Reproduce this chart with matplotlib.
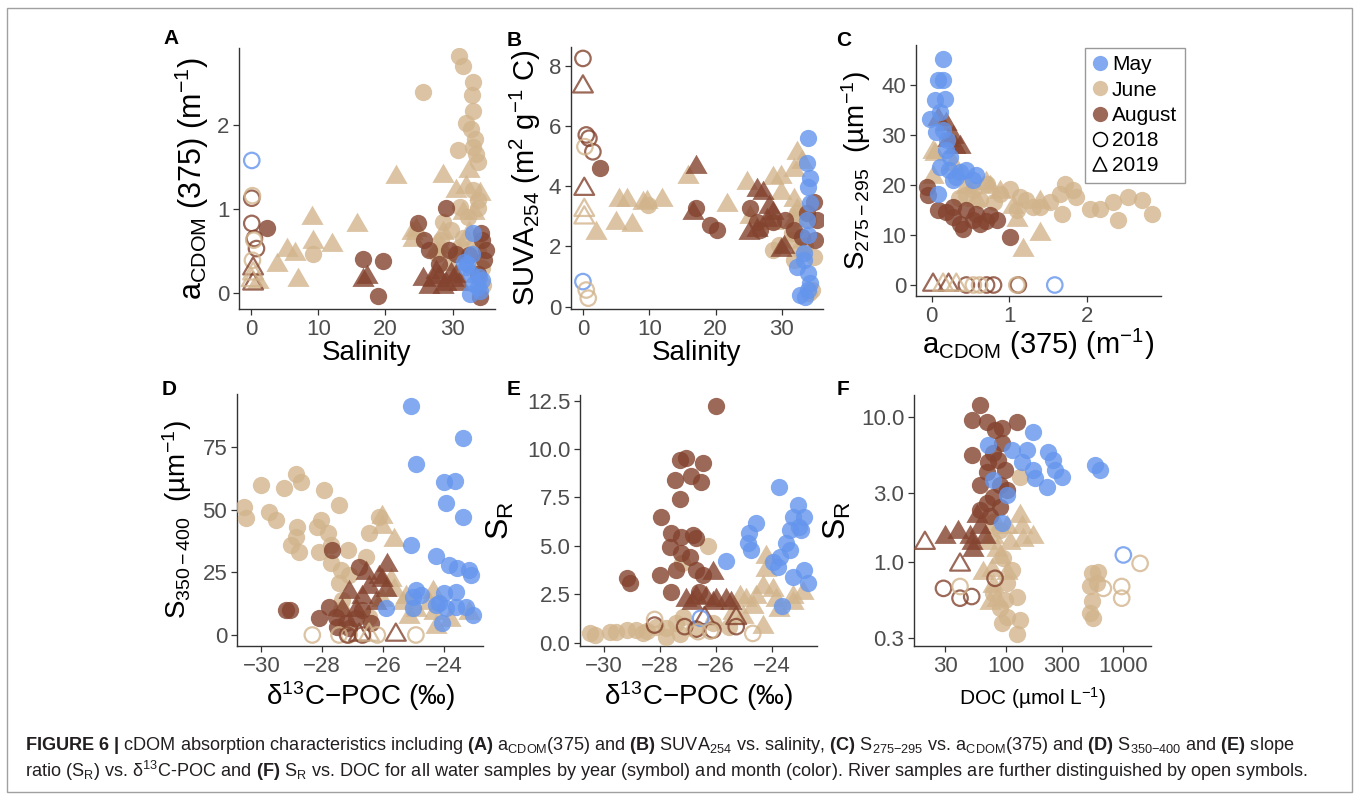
import matplotlib
matplotlib.use("Agg")
import matplotlib.pyplot as plt
from matplotlib.lines import Line2D
from matplotlib.patches import Rectangle
from matplotlib.path import Path
from matplotlib.ticker import FixedLocator, NullLocator

plt.rcParams["font.family"] = ["Liberation Sans", "DejaVu Sans"]
plt.rcParams["mathtext.fontset"] = "custom"
plt.rcParams["mathtext.rm"] = "Liberation Sans"
plt.rcParams["mathtext.it"] = "Liberation Sans:italic"
plt.rcParams["mathtext.bf"] = "Liberation Sans:bold"

MONTH_COLOR = {"May": "#6495ED", "June": "#D2B48C", "August": "#83432E"}
ALPHA = 0.8
TICK_GREY = "#4D4D4D"

# ---------- Data ----------

# A: salinity vs aCDOM(375)
A_may18_x = [32.2, 32.7, 33.2, 33.7, 32.0, 33.9, 32.9, 32.6, 34.4, 31.7, 33.0, 34.0]
A_may18_y = [0.35, 0.23, 0.11, 0.07, 0.31, 0.19, 0.47, -0.01, 0.15, 0.37, 0.71, 0.03]
A_jun18_x = [30.9, 31.6, 25.6, 33.1, 32.9, 33.1, 32.0, 32.8, 33.3, 30.8, 33.5, 33.8, 33.0, 33.0, 33.8,
             33.8, 28.6, 32.3, 31.1, 28.3, 31.6, 33.3, 27.6, 31.1, 33.8, 29.8, 9.2, 34.3, 34.5]
A_jun18_y = [2.82, 2.71, 2.39, 2.52, 2.36, 2.17, 2.03, 1.96, 1.83, 1.71, 1.66, 1.56, 1.74, 1.23, 1.11,
             1.01, 0.85, 0.91, 1.03, 0.63, 0.66, 0.59, 0.47, 0.55, 0.50, 0.75, 0.47, 0.30, 0.10]
A_jun19_x = [21.6, 28.5, 9.0, 15.7, 12.0, 9.2, 5.3, 6.5, 3.8, 7.0, 1.0, 24.1, 24.6, 28.5, 32.0, 32.4,
             30.5, 31.5, 32.5, 31.0, 27.5, 34.0, 33.2, 23.9, 28.3, 29.5]
A_jun19_y = [1.38, 1.40, 0.89, 0.81, 0.57, 0.61, 0.51, 0.47, 0.33, 0.15, 0.13, 0.63, 0.75, 0.71, 1.26, 1.46,
             1.22, 0.95, 0.71, 0.47, 0.51, 1.18, 0.95, 0.71, 0.55, 0.35]
A_aug18_x = [2.3, 16.7, 19.6, 18.9, 24.8, 25.8, 26.5, 29.0, 28.0, 29.5, 30.5, 34.0, 34.7, 34.4, 34.2, 34.9, 33.7, 32.5]
A_aug18_y = [0.77, 0.40, 0.38, -0.04, 0.83, 0.63, 0.51, 1.01, 0.35, 0.51, 0.47, -0.05, 0.39, 0.63, 0.71, 0.51, 0.23, 0.45]
A_aug19_x = [17.2, 16.7, 25.6, 27.0, 28.0, 29.0, 30.0, 26.5, 28.5, 29.8, 31.0, 27.5, 30.5]
A_aug19_y = [0.19, 0.15, 0.17, 0.15, 0.19, 0.11, 0.15, 0.07, 0.07, 0.23, 0.11, 0.25, 0.20]
# river samples (open symbols)
A_riv_x = [0.1, 0.1, 0.1, 0.5, 0.8, 0.2, 0.4, 0.2, 0.3, 0.3, 0.3, 0.1]
A_riv_y = [1.58, 1.13, 0.83, 0.65, 0.53, 1.16, 0.63, 0.39, 0.29, 0.11, 0.23, 0.15]
A_riv_month = ["May", "August", "August", "August", "August", "June", "June", "June",
               "August", "August", "June", "June"]
A_riv_year = [2018, 2018, 2018, 2018, 2018, 2018, 2018, 2018, 2019, 2019, 2019, 2019]

# B: salinity vs SUVA254
B_may18_x = [34.0, 33.8, 34.3, 34.0, 34.3, 34.0, 33.3, 32.3, 33.3, 34.0, 34.3, 32.8, 34.0, 33.5, 33.8]
B_may18_y = [5.59, 4.76, 4.26, 3.98, 3.43, 2.38, 1.77, 1.33, 1.55, 1.11, 0.77, 0.39, 0.55, 0.33, 2.88]
B_jun18_x = [9.8, 28.6, 29.6, 31.5, 32.8, 34.0, 34.8, 34.5, 34.1, 32.3, 31.5, 31.8, 33.5]
B_jun18_y = [3.37, 1.88, 2.05, 2.21, 1.88, 2.88, 1.66, 0.55, 0.44, 3.10, 2.43, 1.55, 2.00]
B_jun19_x = [5.0, 6.6, 5.5, 7.4, 9.1, 9.6, 11.9, 2.0, 15.9, 21.7, 24.7, 28.7, 29.8, 31.8, 32.3, 25.2,
             29.8, 31.8, 32.3, 28.7, 31.8, 33.0]
B_jun19_y = [2.77, 3.54, 3.54, 2.71, 3.43, 3.48, 3.54, 2.43, 4.31, 3.37, 4.09, 4.26, 4.31, 4.54, 5.09, 2.99,
             3.76, 3.54, 3.21, 2.77, 2.88, 4.80]
B_aug18_x = [2.5, 17.1, 19.2, 20.2, 25.2, 26.2, 26.7, 28.7, 30.5, 31.8, 34.8, 35.3, 35.0, 33.8, 33.0]
B_aug18_y = [4.59, 3.26, 2.71, 2.54, 3.26, 2.82, 2.54, 2.82, 2.88, 2.54, 3.48, 2.88, 2.21, 3.10, 2.30]
B_aug19_x = [17.1, 26.2, 27.2, 27.7, 26.2, 28.7, 29.8, 30.3, 25.1, 16.6, 28.0]
B_aug19_y = [4.65, 3.87, 3.76, 2.88, 2.54, 3.10, 1.88, 1.99, 2.43, 3.10, 3.30]
B_riv_x = [0.0, 0.0, 0.5, 0.9, 1.5, 0.3, 0.5, 0.8, 0.0, 0.2, 0.2, 0.2]
B_riv_y = [0.83, 8.24, 5.70, 5.59, 5.14, 5.31, 0.55, 0.28, 7.30, 3.90, 3.20, 2.95]
B_riv_month = A_riv_month
B_riv_year = A_riv_year

# C: aCDOM(375) vs S275-295
C_may18_x = [0.15, 0.09, 0.15, 0.04, 0.17, -0.02, 0.11, 0.06, 0.15, 0.19, 0.24, 0.11, 0.22, 0.37, 0.45,
             0.32, 0.58, 0.54, 0.28, 0.09, 0.20]
C_may18_y = [45.3, 41.0, 41.0, 37.0, 37.3, 33.3, 34.7, 30.7, 31.0, 27.0, 25.7, 23.7, 23.0, 22.7, 23.0,
             21.7, 22.0, 21.0, 21.0, 18.3, 29.0]
C_jun18_x = [1.72, 1.66, 1.87, 2.04, 2.17, 2.34, 2.54, 2.71, 2.84, 2.41, 1.68, 1.53, 1.40, 1.22, 1.01,
             1.14, 0.88, 0.71, 0.54, 0.45, 0.62, 0.80, 1.10, 1.31, 1.83, 0.35]
C_jun18_y = [20.3, 18.3, 17.7, 15.3, 15.3, 16.7, 17.7, 17.0, 14.3, 13.0, 14.3, 16.7, 15.7, 17.0, 19.3,
             17.7, 18.3, 20.3, 19.0, 18.0, 17.0, 16.7, 15.0, 15.7, 19.0, 17.5]
C_jun19_x = [0.04, 0.02, 0.28, 0.75, 0.88, 1.10, 1.40, 1.18, 1.40, 1.05, 0.58, 0.45, 0.02, 0.70]
C_jun19_y = [26.3, 21.7, 24.3, 19.7, 18.7, 13.0, 10.3, 7.0, 16.7, 15.7, 17.0, 19.7, 26.7, 20.5]
C_aug18_x = [-0.06, -0.04, 0.09, 0.19, 0.28, 0.37, 0.41, 0.54, 0.62, 0.75, 0.84, 1.01, 0.45, 0.58, 0.28, 0.70]
C_aug18_y = [19.7, 18.0, 15.0, 14.7, 13.7, 12.3, 11.3, 13.0, 12.3, 14.0, 13.0, 9.7, 15.0, 14.3, 15.7, 12.8]
C_aug19_x = [0.09, 0.19, 0.30, 0.21, 0.28, 0.37]
C_aug19_y = [33.3, 32.3, 27.7, 29.0, 29.7, 27.7]
C_riv_x = [1.59, 1.12, 0.80, 0.71, 0.45, 1.10, 0.62, 0.54, 0.22, 0.02, 0.32, 0.15]
C_riv_y = [0.0] * 12
C_riv_month = A_riv_month
C_riv_year = A_riv_year

# D: d13C-POC vs S350-400
D_may18_x = [-25.08, -24.91, -23.37, -23.98, -23.62, -23.92, -23.37, -25.08, -24.25, -23.81, -23.54, -23.16,
             -23.10, -24.91, -25.02, -24.75, -25.90, -25.02, -23.98, -23.60, -24.15, -23.92, -23.60, -23.26,
             -23.04, -24.04, -24.25]
D_may18_y = [91.5, 68.3, 78.9, 61.3, 61.7, 52.6, 47.3, 36.0, 31.6, 28.0, 26.6, 26.0, 24.0, 18.0, 15.3, 16.0,
             10.7, 10.7, 16.7, 17.3, 12.7, 10.7, 11.3, 11.3, 8.0, 4.7, 12.0]
D_jun18_x = [-30.57, -30.52, -30.02, -29.75, -29.53, -29.25, -28.87, -28.70, -28.81, -28.87, -29.03, -28.76,
             -27.93, -28.04, -28.15, -27.82, -28.10, -27.71, -27.44, -27.16, -27.71, -27.38, -27.44, -27.11,
             -26.56, -26.45, -26.12, -27.38, -26.45, -27.33]
D_jun18_y = [51.3, 46.6, 60.0, 49.3, 46.0, 58.6, 64.3, 61.3, 43.3, 39.3, 36.0, 33.3, 57.9, 46.0, 43.3, 40.6,
             33.3, 36.0, 52.0, 34.0, 28.6, 26.0, 20.6, 24.0, 31.3, 40.6, 47.3, 10.0, 7.3, 14.0]
D_jun19_x = [-26.01, -25.63, -26.01, -25.74, -25.63, -25.35, -24.36, -24.47, -24.91, -24.31, -24.25, -25.13,
             -23.16, -26.01, -25.24, -23.80]
D_jun19_y = [47.3, 38.0, 43.3, 22.0, 18.0, 12.7, 17.3, 12.7, 10.0, 8.7, 3.3, 7.3, 8.7, 14.0, 15.3, 6.0]
D_aug18_x = [-29.20, -29.05, -28.10, -27.77, -27.55, -27.22, -26.88, -26.67, -26.78, -27.66, -27.11, -26.40, -27.50]
D_aug18_y = [10.0, 10.0, 6.7, 11.3, 7.3, 4.7, 6.7, 10.0, 27.3, 34.0, 2.7, 4.7, 3.0]
D_aug19_x = [-25.85, -26.12, -26.45, -26.67, -27.11, -26.23, -25.90, -26.89, -26.01, -26.56, -27.33]
D_aug19_y = [28.0, 23.3, 19.3, 15.3, 17.3, 12.7, 18.0, 10.0, 22.0, 24.6, 10.0]
D_riv_x = [-28.32, -27.44, -27.11, -26.18, -24.91, -27.16, -26.67, -26.78, -25.57, -26.45]
D_riv_y = [0.0] * 10
D_riv_month = ["June", "June", "June", "June", "June", "August", "August", "August", "August", "June"]
D_riv_year = [2018, 2018, 2018, 2018, 2018, 2018, 2018, 2019, 2019, 2019]

# E: d13C-POC vs slope ratio SR
E_may18_x = [-24.81, -24.57, -24.87, -24.75, -25.64, -23.76, -23.09, -23.27, -22.85, -22.97, -23.38, -23.50,
             -23.38, -23.73, -23.98, -23.80, -23.27, -22.85, -22.73, -23.64, -23.03]
E_may18_y = [5.65, 6.16, 5.13, 4.79, 4.24, 8.02, 7.11, 6.51, 6.51, 5.82, 5.82, 5.13, 4.79, 4.44, 4.18, 3.93,
             3.41, 3.75, 3.06, 1.89, 5.99]
E_jun18_x = [-30.50, -30.30, -29.79, -29.55, -29.19, -28.84, -28.60, -28.45, -28.13, -27.77, -27.42, -27.18,
             -26.29, -27.23, -26.11, -25.52, -27.77, -27.30, -26.80]
E_jun18_y = [0.48, 0.40, 0.57, 0.57, 0.65, 0.65, 0.48, 0.60, 0.83, 0.74, 1.00, 1.34, 4.99, 4.10, 1.00, 0.83,
             0.31, 0.45, 0.70]
E_jun19_x = [-24.21, -24.21, -24.33, -23.98, -23.86, -24.57, -24.92, -25.16, -24.69, -23.74, -23.26, -22.91,
             -23.26, -24.33, -25.40, -25.04]
E_jun19_y = [4.44, 3.75, 2.89, 2.72, 2.20, 2.38, 2.20, 2.38, 1.86, 1.69, 2.38, 2.55, 2.03, 0.83, 1.52, 1.34]
E_aug18_x = [-25.99, -27.30, -27.06, -26.47, -27.47, -26.88, -26.52, -27.30, -27.95, -27.59, -27.24, -27.65,
             -26.82, -26.70, -27.24, -26.94, -27.42, -26.70, -26.47, -28.01, -29.19, -29.07, -27.59, -26.59]
E_aug18_y = [12.22, 9.44, 9.52, 9.26, 8.40, 8.61, 8.32, 7.40, 6.51, 5.65, 5.48, 4.96, 5.56, 5.39, 4.61, 4.44,
             3.75, 3.75, 3.50, 3.50, 3.32, 3.06, 2.63, 2.63]
E_aug19_x = [-27.06, -26.70, -26.35, -25.99, -25.64, -26.11, -26.85, -26.11, -25.45]
E_aug19_y = [2.20, 2.38, 2.29, 2.20, 2.20, 2.03, 2.05, 3.60, 2.05]
E_riv_x = [-28.19, -27.12, -26.70, -26.11, -25.28, -26.41, -25.28, -26.55, -28.19, -26.64, -26.20, -24.69]
E_riv_y = [0.91, 0.83, 0.70, 0.65, 0.83, 1.26, 1.26, 1.26, 1.20, 0.57, 0.60, 0.48]
E_riv_month = ["August", "August", "August", "August", "August", "August", "August", "May",
               "June", "June", "June", "June"]
E_riv_year = [2018, 2018, 2018, 2018, 2018, 2019, 2019, 2018, 2018, 2018, 2018, 2018]

# F: DOC vs SR (log-log)
F_may18_x = [170.7, 70.3, 111.4, 149.6, 135.5, 170.7, 229.2, 252.7, 261, 297, 221.6, 176, 573, 632, 77.6, 100.8, 91.4]
F_may18_y = [7.89, 6.38, 5.91, 5.91, 4.91, 4.30, 5.75, 5.04, 4.30, 3.87, 3.30, 3.77, 4.66, 4.30, 3.67, 2.90, 1.85]
F_jun18_x = [131.3, 94.4, 111.4, 100.8, 97.7, 122.8, 88.5, 100.8, 131.3, 91.4, 122.8, 77.6, 537, 612, 520,
             592, 537, 520, 555, 77.6, 88.5]
F_jun18_y = [3.87, 1.06, 0.88, 0.716, 0.55, 0.58, 0.48, 0.42, 0.40, 0.38, 0.32, 0.61, 0.84, 0.86, 0.68,
             0.716, 0.54, 0.45, 0.41, 1.90, 1.66]
F_jun19_x = [131.3, 100.8, 135.5, 170.7, 140, 77.6, 68.1, 82.8, 88.5, 75.2, 63.7, 100.8, 77.6, 72.8, 82.8, 107.6]
F_jun19_y = [2.06, 1.75, 1.75, 1.50, 1.42, 1.50, 1.35, 1.21, 1.09, 0.88, 0.84, 0.84, 0.68, 0.52, 0.55, 1.35]
F_aug18_x = [59.7, 50.7, 68.1, 80.2, 91.4, 122.8, 91.4, 50.7, 70.3, 85.6, 68.1, 59.7, 88.5, 77.6, 68.1, 88.5,
             59.7, 72.8, 100.8, 97.7, 77.6]
F_aug18_y = [12.0, 9.49, 9.24, 8.09, 8.32, 9.24, 6.56, 5.46, 4.91, 5.04, 4.19, 3.39, 3.39, 2.82, 2.54, 2.41,
             2.28, 2.06, 3.13, 4.30, 5.60]
F_aug19_x = [30.0, 39.0, 49.1, 52.4, 59.7, 55.9, 65.9, 50.7]
F_aug19_y = [1.50, 1.62, 1.50, 1.21, 1.75, 2.06, 1.50, 1.35]
F_riv_x = [20.2, 40.3, 29.1, 40.3, 50.7, 80.2, 1000, 675, 968, 968, 1390, 40.3]
F_riv_y = [1.35, 0.957, 0.66, 0.565, 0.58, 0.774, 1.12, 0.66, 0.68, 0.565, 0.98, 0.68]
F_riv_month = ["August", "August", "August", "August", "August", "August", "May",
               "June", "June", "June", "June", "June"]
F_riv_year = [2019, 2019, 2018, 2018, 2018, 2018, 2018, 2018, 2018, 2018, 2018, 2018]

# ---------- Helpers ----------

# equilateral triangle like ggplot's shape 17 / 2
TRI = Path([(-1, -0.577), (1, -0.577), (0, 1.155), (-1, -0.577)],
           [Path.MOVETO, Path.LINETO, Path.LINETO, Path.CLOSEPOLY])
S_CIRCLE = 155
S_TRI = 340


def marker_for(year):
    return "o" if year == 2018 else TRI


def size_for(year):
    return S_CIRCLE if year == 2018 else S_TRI


def draw_panel(ax, may18, jun18, jun19, aug18, aug19, riv):
    series = [(jun18, "June", 2018), (jun19, "June", 2019),
              (aug18, "August", 2018), (aug19, "August", 2019),
              (may18, "May", 2018)]
    for (xs, ys), month, year in series:
        ax.scatter(xs, ys, marker=marker_for(year), s=size_for(year),
                   color=MONTH_COLOR[month], alpha=ALPHA, linewidths=0, zorder=3)
    rx, ry, rm, rz = riv
    for x, y, m, z in zip(rx, ry, rm, rz):
        ax.scatter([x], [y], marker=marker_for(z), s=size_for(z) * 0.8,
                   facecolors="none", edgecolors=MONTH_COLOR[m], alpha=ALPHA,
                   linewidths=1.6, zorder=4)


def style_axis(ax):
    for sp in ("top", "right"):
        ax.spines[sp].set_visible(False)
    for sp in ("left", "bottom"):
        ax.spines[sp].set_color("#333333")
        ax.spines[sp].set_linewidth(1.0)
    ax.tick_params(axis="both", which="major", labelsize=16, colors="#333333",
                   labelcolor=TICK_GREY, length=4, width=0.9, pad=3)
    ax.tick_params(axis="both", which="minor", length=0)


# ---------- Figure ----------

fig = plt.figure(figsize=(13.59, 8.0), dpi=100)
fig.patch.set_facecolor("white")

W, H = 1359.0, 800.0


def add_ax(left, right, top, bottom):
    return fig.add_axes([left / W, 1 - bottom / H, (right - left) / W, (bottom - top) / H])


axA = add_ax(239, 495, 48, 309)
axB = add_ax(571, 823, 47, 309)
axC = add_ax(916, 1161, 45, 296)
axD = add_ax(237, 483, 394, 646)
axE = add_ax(580, 817, 395, 646)
axF = add_ax(914, 1151, 395, 646)

LAB = 20

# A
draw_panel(axA, (A_may18_x, A_may18_y), (A_jun18_x, A_jun18_y), (A_jun19_x, A_jun19_y),
           (A_aug18_x, A_aug18_y), (A_aug19_x, A_aug19_y),
           (A_riv_x, A_riv_y, A_riv_month, A_riv_year))
axA.set_xlim(-1.8, 36.3)
axA.set_ylim(-0.19, 2.92)
axA.set_xticks([0, 10, 20, 30])
axA.set_yticks([0, 1, 2])
axA.set_xlabel("Salinity", fontsize=LAB, labelpad=0)
axA.set_ylabel(r"a$_{\mathrm{CDOM}}$ (375) (m$^{-1}$)", fontsize=LAB + 2, labelpad=4)

# B
draw_panel(axB, (B_may18_x, B_may18_y), (B_jun18_x, B_jun18_y), (B_jun19_x, B_jun19_y),
           (B_aug18_x, B_aug18_y), (B_aug19_x, B_aug19_y),
           (B_riv_x, B_riv_y, B_riv_month, B_riv_year))
axB.set_xlim(-1.8, 36.2)
axB.set_ylim(-0.08, 8.62)
axB.set_xticks([0, 10, 20, 30])
axB.set_yticks([0, 2, 4, 6, 8])
axB.set_xlabel("Salinity", fontsize=LAB, labelpad=0)
axB.set_ylabel(r"SUVA$_{254}$ (m$^{2}$ g$^{-1}$ C)", fontsize=LAB + 1, labelpad=4)

# C
draw_panel(axC, (C_may18_x, C_may18_y), (C_jun18_x, C_jun18_y), (C_jun19_x, C_jun19_y),
           (C_aug18_x, C_aug18_y), (C_aug19_x, C_aug19_y),
           (C_riv_x, C_riv_y, C_riv_month, C_riv_year))
axC.set_xlim(-0.2, 2.96)
axC.set_ylim(-2.2, 48)
axC.set_xticks([0, 1, 2])
axC.set_yticks([0, 10, 20, 30, 40])
axC.set_xlabel(r"a$_{\mathrm{CDOM}}$ (375) (m$^{-1}$)", fontsize=LAB + 1, labelpad=0)
axC.set_ylabel(r"S$_{275-295}$  (µm$^{-1}$)", fontsize=LAB, labelpad=6)

# D
draw_panel(axD, (D_may18_x, D_may18_y), (D_jun18_x, D_jun18_y), (D_jun19_x, D_jun19_y),
           (D_aug18_x, D_aug18_y), (D_aug19_x, D_aug19_y),
           (D_riv_x, D_riv_y, D_riv_month, D_riv_year))
axD.set_xlim(-30.8, -22.7)
axD.set_ylim(-4.4, 96.3)
axD.set_xticks([-30, -28, -26, -24])
axD.set_yticks([0, 25, 50, 75])
axD.set_xlabel(r"δ$^{13}$C−POC (‰)", fontsize=LAB, labelpad=2)
axD.set_ylabel(r"S$_{350-400}$  (µm$^{-1}$)", fontsize=LAB, labelpad=6)

# E
draw_panel(axE, (E_may18_x, E_may18_y), (E_jun18_x, E_jun18_y), (E_jun19_x, E_jun19_y),
           (E_aug18_x, E_aug18_y), (E_aug19_x, E_aug19_y),
           (E_riv_x, E_riv_y, E_riv_month, E_riv_year))
axE.set_xlim(-30.85, -22.4)
axE.set_ylim(-0.17, 12.79)
axE.set_xticks([-30, -28, -26, -24])
axE.set_yticks([0, 2.5, 5, 7.5, 10, 12.5])
axE.set_yticklabels(["0.0", "2.5", "5.0", "7.5", "10.0", "12.5"])
axE.set_xlabel(r"δ$^{13}$C−POC (‰)", fontsize=LAB, labelpad=2)
axE.set_ylabel(r"S$_{\mathrm{R}}$", fontsize=LAB + 3, labelpad=8)

# F
draw_panel(axF, (F_may18_x, F_may18_y), (F_jun18_x, F_jun18_y), (F_jun19_x, F_jun19_y),
           (F_aug18_x, F_aug18_y), (F_aug19_x, F_aug19_y),
           (F_riv_x, F_riv_y, F_riv_month, F_riv_year))
axF.set_xscale("log")
axF.set_yscale("log")
axF.set_xlim(16.3, 1722)
axF.set_ylim(0.265, 14.1)
axF.xaxis.set_major_locator(FixedLocator([30, 100, 300, 1000]))
axF.yaxis.set_major_locator(FixedLocator([0.3, 1.0, 3.0, 10.0]))
axF.xaxis.set_minor_locator(NullLocator())
axF.yaxis.set_minor_locator(NullLocator())
axF.set_xticklabels(["30", "100", "300", "1000"])
axF.set_yticklabels(["0.3", "1.0", "3.0", "10.0"])
axF.set_xlabel(r"DOC (µmol L$^{-1}$)", fontsize=15, labelpad=6)
axF.set_ylabel(r"S$_{\mathrm{R}}$", fontsize=LAB + 3, labelpad=6)

for ax in (axA, axB, axC, axD, axE, axF):
    style_axis(ax)

# panel letters
for letter, px, py in [("A", 171, 38), ("B", 514, 40), ("C", 844, 40),
                       ("D", 169, 389), ("E", 514, 389), ("F", 843, 389)]:
    fig.text(px / W, 1 - py / H, letter, fontsize=15, fontweight="bold",
             ha="center", va="center")

# legend (in panel C)
handles = [
    Line2D([], [], marker="o", linestyle="none", markersize=11, markerfacecolor=MONTH_COLOR["May"],
           markeredgewidth=0, alpha=ALPHA),
    Line2D([], [], marker="o", linestyle="none", markersize=11, markerfacecolor=MONTH_COLOR["June"],
           markeredgewidth=0, alpha=ALPHA),
    Line2D([], [], marker="o", linestyle="none", markersize=11, markerfacecolor=MONTH_COLOR["August"],
           markeredgewidth=0, alpha=ALPHA),
    Line2D([], [], marker="o", linestyle="none", markersize=10, markerfacecolor="none",
           markeredgecolor="black", markeredgewidth=1.1),
    Line2D([], [], marker="^", linestyle="none", markersize=10, markerfacecolor="none",
           markeredgecolor="black", markeredgewidth=1.1),
]
leg = fig.legend(handles, ["May", "June", "August", "2018", "2019"],
                 loc="upper left", bbox_to_anchor=(1085 / W, 1 - 48 / H),
                 fontsize=15, frameon=True, fancybox=False, handlelength=0.7,
                 handletextpad=0.25, labelspacing=0.3, borderpad=0.35, borderaxespad=0)
leg.get_frame().set_edgecolor("#808080")
leg.get_frame().set_linewidth(1.0)

# caption
line1 = (r"$\mathbf{FIGURE\ 6\ |}$ cDOM absorption characteristics including $\mathbf{(A)}$ "
         r"a$_{\mathrm{CDOM}}$(375) and $\mathbf{(B)}$ SUVA$_{254}$ vs. salinity, $\mathbf{(C)}$ "
         r"S$_{275\mathrm{-}295}$ vs. a$_{\mathrm{CDOM}}$(375) and $\mathbf{(D)}$ S$_{350\mathrm{-}400}$ "
         r"and $\mathbf{(E)}$ slope")
line2 = (r"ratio (S$_{\mathrm{R}}$) vs. δ$^{13}$C-POC and $\mathbf{(F)}$ S$_{\mathrm{R}}$ vs. DOC for all "
         r"water samples by year (symbol) and month (color). River samples are further distinguished "
         r"by open symbols.")
fig.text(25 / W, 1 - 745 / H, line1, fontsize=13.1, ha="left", va="center", color="#231F20")
fig.text(25 / W, 1 - 771 / H, line2, fontsize=13.1, ha="left", va="center", color="#231F20")

# outer frame
fig.patches.append(Rectangle((7 / W, 8 / H), (1352 - 7) / W, (792 - 8) / H, transform=fig.transFigure,
                             fill=False, edgecolor="#A0A0A0", linewidth=1.0))

fig.savefig("out.png", dpi=100, facecolor="white")
